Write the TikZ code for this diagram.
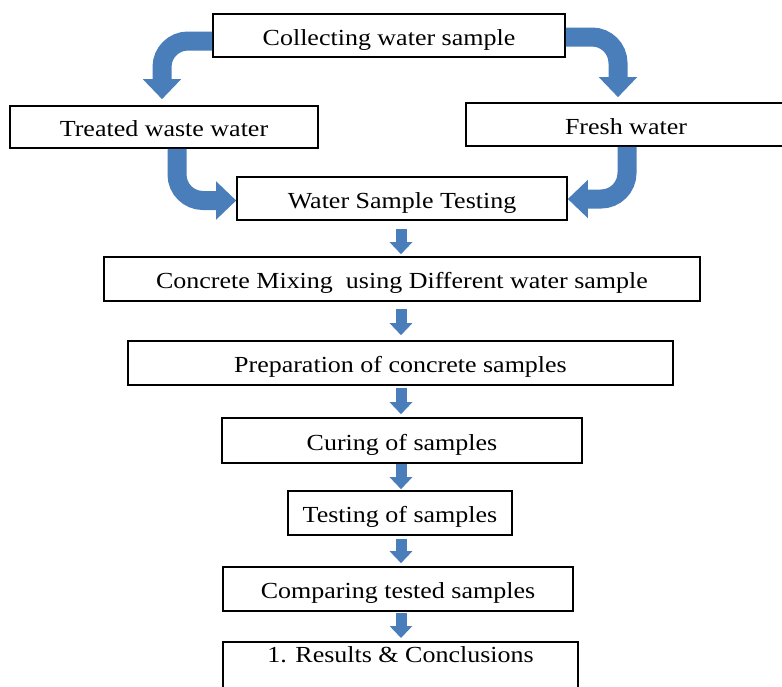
\documentclass[tikz,border=0pt]{standalone}
\usepackage{fontspec}
\setmainfont{Liberation Serif}[FakeStretch=1.13]
\usepackage{xcolor}
\usepackage{tikz}
\usetikzlibrary{arrows.meta}
\definecolor{arrowblue}{RGB}{74,126,187}
\tikzstyle{box} = [draw=black,line width=1.6pt,inner sep=0pt,minimum height=44pt,text height=19pt,text depth=0pt,font=\fontsize{23}{27}\selectfont]
\tikzstyle{flow} = [line width=11pt,draw=arrowblue,-{Triangle[width=22pt,length=12pt]},shorten <=3pt,shorten >=3pt]
\tikzstyle{bendarrow} = [line width=19pt,draw=arrowblue,rounded corners=26pt,-{Triangle[width=37pt,length=20pt]}]

\begin{document}
\begin{tikzpicture}[x=1pt,y=-1pt]
	\useasboundingbox (0,0) rectangle (782,686);
	
	% Boxes:
	\node[box,minimum width=352pt,minimum height=43pt] (collect) at (389,35.5) {Collecting water sample};
	\node[box,minimum width=308pt,minimum height=42pt] (treated) at (164,127) {Treated waste water};
	\node[box,minimum width=320pt,minimum height=43pt] (fresh) at (626,124.5) {Fresh water};
	\node[box,minimum width=330pt,minimum height=43pt] (wst) at (402,198.5) {Water Sample Testing};
	\node[box,minimum width=596pt] (mix) at (402,279) {Concrete Mixing\ \ using Different water sample};
	\node[box,minimum width=545pt] (prep) at (400.5,363) {Preparation of concrete samples};
	\node[box,minimum width=360pt,minimum height=45pt] (cure) at (402,440.5) {Curing of samples};
	\node[box,minimum width=224pt] (tests) at (400,513) {Testing of samples};
	\node[box,minimum width=350pt] (comp) at (398,589) {Comparing tested samples};
	% the last box runs off the bottom of the page
	\node[box,minimum width=355pt,minimum height=0pt,anchor=north,inner ysep=4pt,text height=17pt,text depth=40pt] (results) at (400.5,641) {1. Results \& Conclusions};
	
	% Bent arrows:
	\draw[bendarrow] ([yshift=-5.5pt]collect.west) -| ([xshift=-2pt,yshift=6pt]treated.north);
	\draw[bendarrow] ([yshift=-1.5pt]collect.east) -| ([xshift=-8pt,yshift=5pt]fresh.north);
	\draw[bendarrow] ([xshift=13pt]treated.south) |- ([yshift=-2pt]wst.west);
	\draw[bendarrow] ([xshift=1pt]fresh.south) |- ([yshift=-0.5pt]wst.east);
	
	% Straight arrows down the middle:
	\coordinate (spine) at (401,0);
	\draw[flow,shorten <=8pt,shorten >=2pt] (wst.south -| spine) -- (mix.north -| spine);
	\draw[flow,shorten <=7pt,shorten >=5pt] (mix.south -| spine) -- (prep.north -| spine);
	\draw[flow,shorten <=2pt] (prep.south -| spine) -- (cure.north -| spine);
	\draw[flow,shorten <=0pt,shorten >=1pt] (cure.south -| spine) -- (tests.north -| spine);
	\draw[flow] (tests.south -| spine) -- (comp.north -| spine);
	\draw[flow,shorten <=1pt] (comp.south -| spine) -- (results.north -| spine);
	
\end{tikzpicture}
\end{document}
